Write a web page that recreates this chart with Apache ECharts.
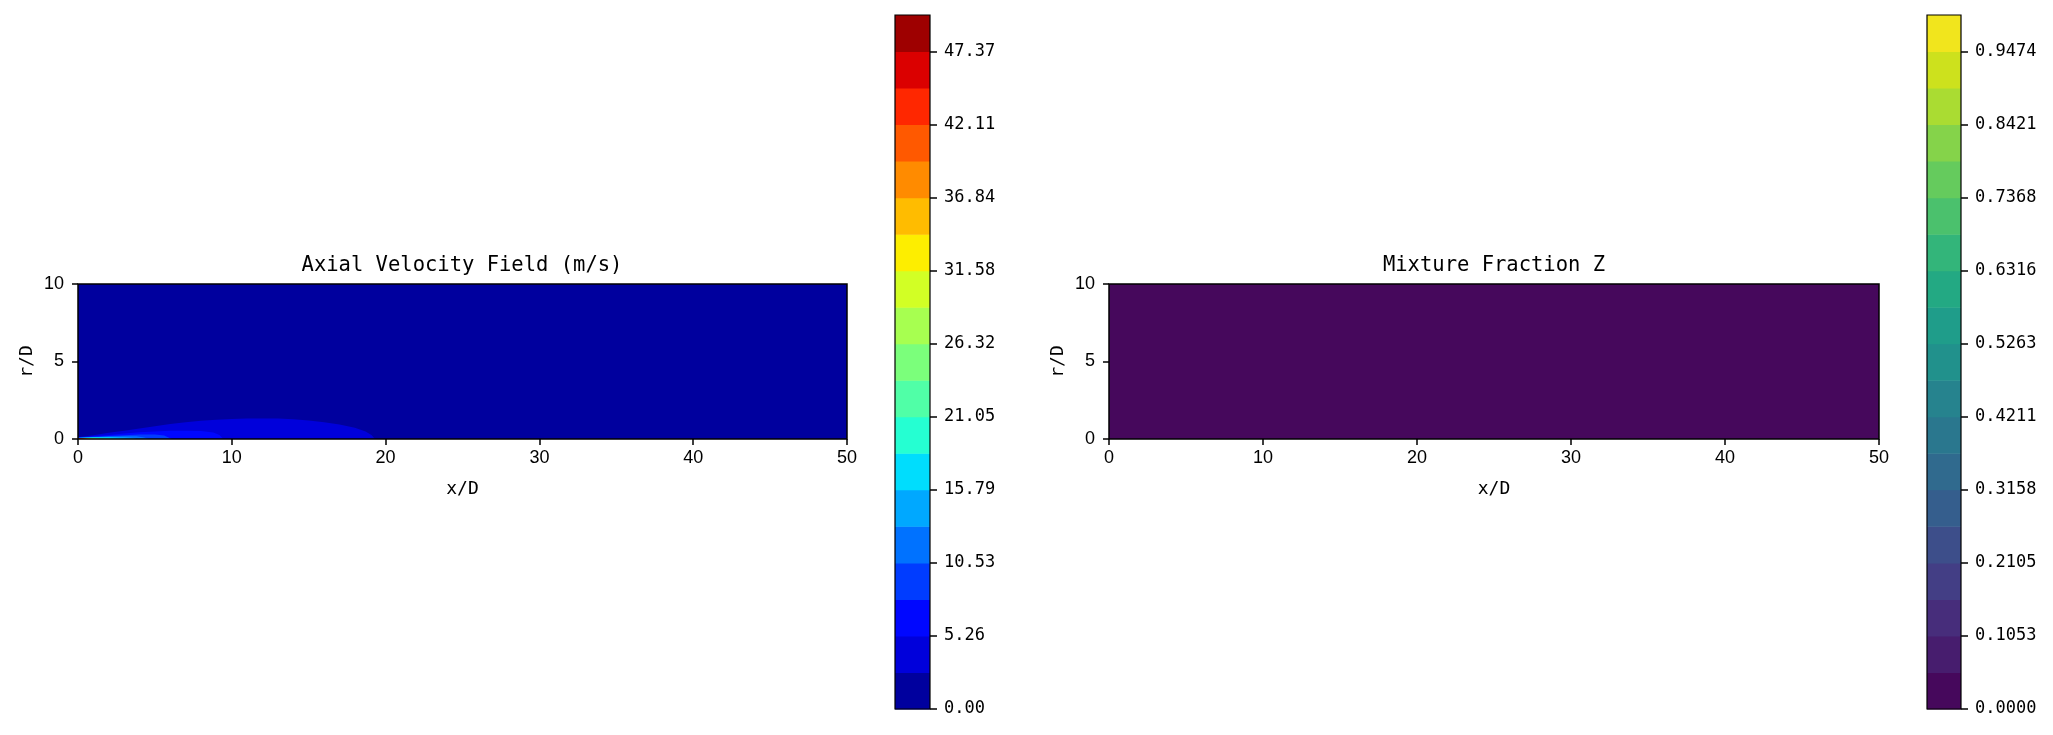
<!DOCTYPE html>
<html><head><meta charset="utf-8">
<script src="https://cdn.jsdelivr.net/npm/echarts@6/dist/echarts.min.js"></script>
<style>html,body{margin:0;padding:0;background:#fff}#c{width:2053px;height:735px}</style>
</head><body><div id="c"></div>
<script>
// ---- data ----
const velLevels = [0, 2.6316, 5.2632, 7.8947, 10.5263, 13.1579, 15.7895, 18.4211, 21.0526, 23.6842,
  26.3158, 28.9474, 31.5789, 34.2105, 36.8421, 39.4737, 42.1053, 44.7368, 47.3684, 50];
const velColors = ['#00009e','#0000db','#0007ff','#003cff','#0072ff','#00a8ff','#00ddfd','#25ffd2','#50ffa7','#7bff7b',
  '#a7ff50','#d2ff25','#fdee00','#ffbc00','#ff8b00','#ff5900','#ff2700','#db0000','#9e0000'];
const velTickLabels = ['0.00','5.26','10.53','15.79','21.05','26.32','31.58','36.84','42.11','47.37'];

const zLevels = [0, 0.0526, 0.1053, 0.1579, 0.2105, 0.2632, 0.3158, 0.3684, 0.4211, 0.4737,
  0.5263, 0.5789, 0.6316, 0.6842, 0.7368, 0.7895, 0.8421, 0.8947, 0.9474, 1];
const zColors = ['#46085c','#471d6e','#472d7b','#433e85','#3d4e8a','#355e8d','#306a8e','#2a778e','#26838e','#21918c',
  '#1f9d8a','#23a983','#33b57a','#4bc16d','#65cb5d','#85d34a','#aadc32','#cde11d','#f1e51d'];
const zTickLabels = ['0.0000','0.1053','0.2105','0.3158','0.4211','0.5263','0.6316','0.7368','0.8421','0.9474'];

const xTicks = [0, 10, 20, 30, 40, 50];
const rTicks = [0, 5, 10];

// Filled-contour regions of the axial velocity: outline [x/D, r/D] of the area where u exceeds
// velLevels[k] (closed along the axis r = 0). Index k = band colour index.
const velOutlines = [
  [[0,10],[50,10],[50,0]],
  [[0,0.12],[1,0.24],[2,0.4],[3,0.54],[4,0.68],[5,0.82],[6,0.96],[7,1.08],[8,1.17],[9,1.24],[10,1.29],[11,1.32],
   [12,1.33],[13,1.32],[14,1.28],[15,1.2],[16,1.08],[17,0.93],[18,0.72],[18.7,0.48],[19.1,0.25],[19.3,0]],
  [[0,0.1],[1,0.17],[2,0.26],[3,0.35],[4,0.43],[5,0.49],[6,0.53],[7,0.54],[8,0.51],[8.8,0.42],[9.2,0.26],[9.45,0]],
  [[0,0.09],[1,0.14],[2,0.2],[3,0.25],[4,0.29],[5,0.29],[5.6,0.22],[6.1,0]],
  [[0,0.08],[1,0.12],[2,0.16],[3,0.18],[3.8,0.17],[4.3,0.1],[4.6,0]],
  [[0,0.07],[1,0.1],[2,0.13],[3,0.12],[3.6,0.07],[3.8,0]],
  [[0,0.07],[1,0.09],[2,0.1],[2.7,0.07],[3.1,0]],
  [[0,0.06],[1,0.08],[2,0.07],[2.5,0]],
  [[0,0.06],[1,0.07],[1.8,0.05],[2.1,0]],
  [[0,0.06],[1.2,0.05],[1.7,0]],
  [[0,0.05],[1.0,0.05],[1.4,0]],
  [[0,0.05],[1.2,0]],
  [[0,0.05],[1.05,0]],
  [[0,0.05],[0.95,0]],
  [[0,0.05],[0.85,0]],
  [[0,0.05],[0.75,0]],
  [[0,0.04],[0.65,0]],
  [[0,0.04],[0.55,0]]
];
// Mixture fraction: the whole domain lies in the lowest band
const zOutlines = [
  [[0,10],[50,10],[50,0]]
];

// ---- chart ----
const MONO = 'DejaVu Sans Mono';
const SANS = 'Liberation Sans';
const chart = echarts.init(document.getElementById('c'), null, {renderer: 'canvas'});

function contourSeries(gi, outlines, colors) {
  return {
    type: 'custom', xAxisIndex: gi, yAxisIndex: gi, clip: true, z: -1, silent: true,
    data: outlines.map((o, i) => [i]),
    renderItem: function (params, api) {
      const i = api.value(0);
      const pts = [[0, 0]].concat(outlines[i]).map(p => api.coord(p));
      return {type: 'polygon', shape: {points: pts}, style: {fill: colors[i], stroke: null}};
    }
  };
}
function colorbarSeries(gi, levels, colors) {
  return {
    type: 'custom', xAxisIndex: gi, yAxisIndex: gi, z: -1, silent: true,
    data: colors.map((c, i) => [i]),
    renderItem: function (params, api) {
      const i = api.value(0);
      const a = api.coord([0, levels[i + 1]]);
      const b = api.coord([1, levels[i]]);
      return {type: 'rect', shape: {x: a[0], y: a[1], width: b[0] - a[0], height: b[1] - a[1] + 0.5},
        style: {fill: colors[i]}};
    }
  };
}
function plotX(gi) {
  return {
    gridIndex: gi, type: 'value', min: 0, max: 50, interval: 10,
    axisLine: {show: false, onZero: false}, splitLine: {show: false},
    axisTick: {show: true, length: 6, lineStyle: {color: '#000', width: 1.5}},
    axisLabel: {color: '#000', fontSize: 18, fontFamily: SANS, margin: 10},
    name: 'x/D', nameLocation: 'middle', nameGap: 41,
    nameTextStyle: {color: '#000', fontSize: 18, fontFamily: MONO}
  };
}
function plotY(gi) {
  return {
    gridIndex: gi, type: 'value', min: 0, max: 10, interval: 5,
    axisLine: {show: false, onZero: false}, splitLine: {show: false},
    axisTick: {show: true, length: 6, lineStyle: {color: '#000', width: 1.5}},
    axisLabel: {color: '#000', fontSize: 18, fontFamily: SANS, margin: 14},
    name: 'r/D', nameLocation: 'middle', nameGap: 42,
    nameTextStyle: {color: '#000', fontSize: 18, fontFamily: MONO}
  };
}
function cbY(gi, labels, max, digits) {
  const vals = labels.map(s => parseFloat(s));
  return {
    gridIndex: gi, type: 'value', min: 0, max: max, position: 'right',
    axisLine: {show: false, onZero: false}, splitLine: {show: false},
    axisTick: {show: true, customValues: vals, length: 7, lineStyle: {color: '#000', width: 1.5}},
    axisLabel: {show: true, customValues: vals, color: '#000', fontSize: 17, fontFamily: MONO, margin: 14,
      formatter: v => v.toFixed(digits)}
  };
}

chart.setOption({
  animation: false,
  backgroundColor: '#fff',
  title: [
    {text: 'Axial Velocity Field (m/s)', left: 462, top: 255, textAlign: 'center', padding: 0,
      textStyle: {color: '#000', fontSize: 20.5, fontWeight: 'normal', fontFamily: MONO}},
    {text: 'Mixture Fraction Z', left: 1494, top: 255, textAlign: 'center', padding: 0,
      textStyle: {color: '#000', fontSize: 20.5, fontWeight: 'normal', fontFamily: MONO}}
  ],
  grid: [
    {left: 78, top: 284, width: 769, height: 155, show: true, borderColor: '#000', borderWidth: 1.5, backgroundColor: 'transparent'},
    {left: 895, top: 15, width: 35, height: 694, show: true, borderColor: '#000', borderWidth: 1.2, backgroundColor: 'transparent'},
    {left: 1109, top: 284, width: 770, height: 155, show: true, borderColor: '#000', borderWidth: 1.5, backgroundColor: 'transparent'},
    {left: 1927, top: 15, width: 34, height: 694, show: true, borderColor: '#000', borderWidth: 1.2, backgroundColor: 'transparent'}
  ],
  xAxis: [
    plotX(0),
    {gridIndex: 1, type: 'value', min: 0, max: 1, show: false},
    plotX(2),
    {gridIndex: 3, type: 'value', min: 0, max: 1, show: false}
  ],
  yAxis: [
    plotY(0),
    cbY(1, velTickLabels, 50, 2),
    plotY(2),
    cbY(3, zTickLabels, 1, 4)
  ],
  series: [
    contourSeries(0, velOutlines, velColors),
    colorbarSeries(1, velLevels, velColors),
    contourSeries(2, zOutlines, zColors),
    colorbarSeries(3, zLevels, zColors)
  ]
});
</script></body></html>
